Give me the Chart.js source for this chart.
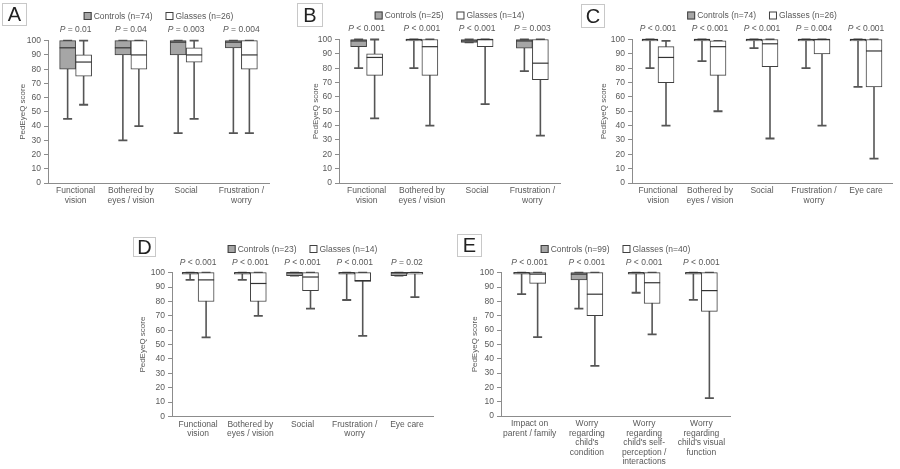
<!DOCTYPE html>
<html>
<head>
<meta charset="utf-8">
<script src="https://cdn.jsdelivr.net/npm/chart.js@4.4.0/dist/chart.umd.min.js"></script>
<style>
    body { margin: 0; background: #fff; }
    #stage { position: relative; width: 900px; height: 469px; overflow: hidden; background: #fff; }
    #stage canvas { position: absolute; left: 0; top: 0; }
    .tag {
        position: absolute; box-sizing: border-box; border: 1px solid #c8c8c8;
        font: 20px "Liberation Sans", Arial, sans-serif; color: #222;
        display: flex; align-items: center; justify-content: center;
    }
</style>
</head>
<body>
<div id="stage"></div>
<script>
/**
 * PedEyeQ box plots - controls vs glasses
 * stats per box: [min, q1, median, q3, max]
 */
const yTickValues = [0, 10, 20, 30, 40, 50, 60, 70, 80, 90, 100];

const catsA = [['Functional', 'vision'], ['Bothered by', 'eyes / vision'], ['Social'], ['Frustration /', 'worry']];
const catsC = [['Functional', 'vision'], ['Bothered by', 'eyes / vision'], ['Social'], ['Frustration /', 'worry'], ['Eye care']];
const catsE = [
    ['Impact on', 'parent / family'],
    ['Worry', 'regarding', "child's", 'condition'],
    ['Worry', 'regarding', "child's self-", 'perception /', 'interactions'],
    ['Worry', 'regarding', "child's visual", 'function']
];

// Panel A
const ctrlA = [[45, 80, 95, 100, 100], [30, 90, 95, 100, 100], [35, 90, 99, 100, 100], [35, 95, 99, 100, 100]];
const glsA = [[55, 75, 85, 90, 100], [40, 80, 90, 100, 100], [45, 85, 90, 95, 100], [35, 80, 90, 100, 100]];
const pA = ['P = 0.01', 'P = 0.04', 'P = 0.003', 'P = 0.004'];
const legendA = ['Controls (n=74)', 'Glasses (n=26)'];

// Panel B
const ctrlB = [[80, 95, 99, 100, 100], [80, 99, 100, 100, 100], [98, 98, 99, 100, 100], [78, 94, 99, 100, 100]];
const glsB = [[45, 75, 87.5, 90, 100], [40, 75, 95, 100, 100], [55, 95, 100, 100, 100], [33, 72, 83.5, 100, 100]];
const pB = ['P < 0.001', 'P < 0.001', 'P < 0.001', 'P = 0.003'];
const legendB = ['Controls (n=25)', 'Glasses (n=14)'];

// Panel C
const ctrlC = [[80, 99, 100, 100, 100], [85, 99, 100, 100, 100], [94, 99, 100, 100, 100], [80, 99, 100, 100, 100], [67, 99, 100, 100, 100]];
const glsC = [[40, 70, 87.5, 95, 99], [50, 75, 95, 99, 99], [31, 81, 97, 100, 100], [40, 90, 100, 100, 100], [17, 67, 92, 100, 100]];
const pC = ['P < 0.001', 'P < 0.001', 'P < 0.001', 'P = 0.004', 'P < 0.001'];
const legendC = ['Controls (n=74)', 'Glasses (n=26)'];

// Panel D
const ctrlD = [[95, 99, 100, 100, 100], [95, 99, 100, 100, 100], [98, 98, 100, 100, 100], [81, 99, 100, 100, 100], [98, 98, 100, 100, 100]];
const glsD = [[55, 80, 95, 100, 100], [70, 80, 92.5, 100, 100], [75, 87.5, 97, 100, 100], [56, 94, 94.5, 100, 100], [83, 99, 100, 100, 100]];
const pD = ['P < 0.001', 'P < 0.001', 'P < 0.001', 'P < 0.001', 'P = 0.02'];
const legendD = ['Controls (n=23)', 'Glasses (n=14)'];

// Panel E
const ctrlE = [[85, 99, 100, 100, 100], [75, 95, 99, 100, 100], [86, 99, 100, 100, 100], [81, 99, 100, 100, 100]];
const glsE = [[55, 92.5, 99, 100, 100], [35, 70, 85, 100, 100], [57, 78.5, 93, 100, 100], [12.5, 73, 87.5, 100, 100]];
const pE = ['P < 0.001', 'P < 0.001', 'P < 0.001', 'P < 0.001'];
const legendE = ['Controls (n=99)', 'Glasses (n=40)'];

const TEXT = '#595959';
const AXIS = '#8c8c8c';
const FONT = '"Liberation Sans", Arial, sans-serif';
const W = 900, H = 469;

// area = [left, top, right, bottom] of plot area in page px
const panels = [
    { tag: 'A', box: [2, 3, 25, 23], cats: catsA, ctrl: ctrlA, gls: glsA, p: pA, legend: legendA,
      area: [48, 40.7, 269, 183], yTitleX: 23, pY: 30, legY: 16 },
    { tag: 'B', box: [297, 3, 26, 24], cats: catsA, ctrl: ctrlB, gls: glsB, p: pB, legend: legendB,
      area: [339, 39.5, 560, 183], yTitleX: 316, pY: 29, legY: 15.5 },
    { tag: 'C', box: [581, 4, 24, 24], cats: catsC, ctrl: ctrlC, gls: glsC, p: pC, legend: legendC,
      area: [632, 39.5, 892, 183], yTitleX: 604, pY: 29, legY: 15.5 },
    { tag: 'D', box: [133, 237, 23, 20], cats: catsC, ctrl: ctrlD, gls: glsD, p: pD, legend: legendD,
      area: [172, 272.7, 433, 416.5], yTitleX: 143, pY: 262.5, legY: 249 },
    { tag: 'E', box: [457, 234, 25, 23], cats: catsE, ctrl: ctrlE, gls: glsE, p: pE, legend: legendE,
      area: [501, 272.7, 730, 416], yTitleX: 475, pY: 262.5, legY: 249 }
];

/**
 * Whiskers behind the boxes, medians on top, then P values / legend / axis title
 */
const boxPlotPlugin = {
    id: 'boxPlot',
    beforeDatasetsDraw(chart) {
        const ctx = chart.ctx;
        const y = chart.scales.y;
        ctx.save();
        ctx.strokeStyle = '#555';
        chart.data.datasets.forEach((ds, di) => {
            chart.getDatasetMeta(di).data.forEach((el, i) => {
                const s = ds.stats[i];
                const yMin = y.getPixelForValue(s[0]);
                const yMax = y.getPixelForValue(s[4]);
                ctx.lineWidth = 1.6;
                ctx.beginPath();
                ctx.moveTo(el.x, yMin);
                ctx.lineTo(el.x, yMax);
                ctx.stroke();
                ctx.lineWidth = 1.8;
                ctx.beginPath();
                ctx.moveTo(el.x - 4.5, yMin);
                ctx.lineTo(el.x + 4.5, yMin);
                ctx.moveTo(el.x - 4.5, yMax);
                ctx.lineTo(el.x + 4.5, yMax);
                ctx.stroke();
            });
        });
        ctx.restore();
    },
    afterDatasetsDraw(chart) {
        const ctx = chart.ctx;
        const y = chart.scales.y;
        ctx.save();
        ctx.strokeStyle = '#333';
        ctx.lineWidth = 1.2;
        chart.data.datasets.forEach((ds, di) => {
            chart.getDatasetMeta(di).data.forEach((el, i) => {
                const yMed = y.getPixelForValue(ds.stats[i][2]);
                ctx.beginPath();
                ctx.moveTo(el.x - el.width / 2, yMed);
                ctx.lineTo(el.x + el.width / 2, yMed);
                ctx.stroke();
            });
        });
        ctx.restore();
    },
    afterDraw(chart, args, opts) {
        const ctx = chart.ctx;
        const x = chart.scales.x;
        const area = chart.chartArea;
        ctx.save();
        ctx.fillStyle = TEXT;
        ctx.textBaseline = 'middle';

        // P values above each category
        opts.p.forEach((txt, i) => {
            const cx = x.getPixelForValue(i);
            ctx.font = 'italic 8.5px ' + FONT;
            const wP = ctx.measureText('P').width;
            ctx.font = '8.5px ' + FONT;
            const rest = txt.slice(1);
            const wR = ctx.measureText(rest).width;
            const x0 = cx - (wP + wR) / 2;
            ctx.font = 'italic 8.5px ' + FONT;
            ctx.fillText('P', x0, opts.pY);
            ctx.font = '8.5px ' + FONT;
            ctx.fillText(rest, x0 + wP, opts.pY);
        });

        // legend centred over the plot
        ctx.font = '8.5px ' + FONT;
        const sq = 8, gapIn = 2, gapOut = 13;
        const items = chart.data.datasets.map(ds => ({ label: ds.label, fill: ds.backgroundColor }));
        const total = items.reduce((t, it) => t + sq + gapIn + ctx.measureText(it.label).width, 0) + gapOut;
        let lx = (area.left + area.right) / 2 - total / 2;
        items.forEach(it => {
            ctx.fillStyle = it.fill;
            ctx.fillRect(lx, opts.legY - sq / 2, sq, sq);
            ctx.strokeStyle = '#404040';
            ctx.lineWidth = 1;
            ctx.strokeRect(lx + 0.5, opts.legY - sq / 2 + 0.5, sq - 1, sq - 1);
            ctx.fillStyle = TEXT;
            ctx.fillText(it.label, lx + sq + gapIn, opts.legY + 0.5);
            lx += sq + gapIn + ctx.measureText(it.label).width + gapOut;
        });

        // y axis title
        ctx.translate(opts.yTitleX, (area.top + area.bottom) / 2);
        ctx.rotate(-Math.PI / 2);
        ctx.textAlign = 'center';
        ctx.font = '8px ' + FONT;
        ctx.fillText('PedEyeQ score', 0, 0);
        ctx.restore();
    }
};

/**
 * Build one panel as a full-page transparent canvas
 */
function makePanel(cfg) {
    const stage = document.getElementById('stage');
    const canvas = document.createElement('canvas');
    canvas.width = W;
    canvas.height = H;
    canvas.style.width = W + 'px';
    canvas.style.height = H + 'px';
    stage.appendChild(canvas);

    const tag = document.createElement('div');
    tag.className = 'tag';
    tag.textContent = cfg.tag;
    tag.style.left = cfg.box[0] + 'px';
    tag.style.top = cfg.box[1] + 'px';
    tag.style.width = cfg.box[2] + 'px';
    tag.style.height = cfg.box[3] + 'px';
    stage.appendChild(tag);

    const [left, top, right, bottom] = cfg.area;
    const yW = 30, xH = 50;

    new Chart(canvas, {
        type: 'bar',
        data: {
            labels: cfg.cats,
            datasets: [
                {
                    label: cfg.legend[0],
                    data: cfg.ctrl.map(s => [s[1], s[3]]),
                    stats: cfg.ctrl,
                    backgroundColor: '#a6a6a6',
                    borderColor: '#404040',
                    borderWidth: 1,
                    borderSkipped: false,
                    barThickness: 16,
                    clip: false
                },
                {
                    label: cfg.legend[1],
                    data: cfg.gls.map(s => [s[1], s[3]]),
                    stats: cfg.gls,
                    backgroundColor: '#ffffff',
                    borderColor: '#404040',
                    borderWidth: 1,
                    borderSkipped: false,
                    barThickness: 16,
                    clip: false
                }
            ]
        },
        options: {
            responsive: false,
            animation: false,
            devicePixelRatio: 1,
            layout: {
                padding: { left: left - yW, top: top, right: W - right, bottom: H - bottom - xH }
            },
            plugins: {
                legend: { display: false },
                tooltip: { enabled: false },
                boxPlot: { p: cfg.p, pY: cfg.pY, legY: cfg.legY, yTitleX: cfg.yTitleX }
            },
            scales: {
                x: {
                    afterFit: s => { s.height = xH; },
                    grid: { display: false, drawTicks: false },
                    border: { display: true, color: AXIS, width: 1 },
                    ticks: {
                        color: TEXT,
                        padding: 3,
                        maxRotation: 0,
                        autoSkip: false,
                        font: { family: FONT, size: 8.5, lineHeight: 1.12 }
                    }
                },
                y: {
                    min: 0,
                    max: 100,
                    afterFit: s => { s.width = yW; },
                    afterBuildTicks: s => { s.ticks = yTickValues.map(v => ({ value: v })); },
                    grid: { drawOnChartArea: false, drawTicks: true, tickLength: 4, color: AXIS },
                    border: { display: true, color: AXIS, width: 1 },
                    ticks: {
                        color: TEXT,
                        padding: 3,
                        font: { family: FONT, size: 8.5 }
                    }
                }
            }
        },
        plugins: [boxPlotPlugin]
    });
}

panels.forEach(makePanel);
</script>
</body>
</html>
